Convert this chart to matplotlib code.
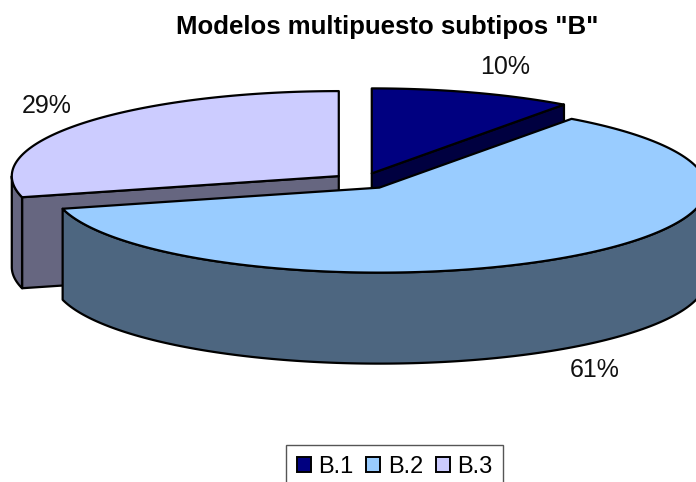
import numpy as np
import matplotlib
matplotlib.use("Agg")
import matplotlib.pyplot as plt
from matplotlib.patches import Patch

plt.rcParams['font.family'] = ['Liberation Sans', 'DejaVu Sans']

# -------------------------------
# Data
categories = ["B.1", "B.2", "B.3"]
values = [10, 61, 29]
title = 'Modelos multipuesto subtipos "B"'

# -------------------------------
# Look of the fake 3D pie (pixels of the picture)
top_colors = ['#000080', '#99CCFF', '#CCCCFF']
wall_colors = ['#000040', '#4D6680', '#666680']
center_x, center_y = 362.5, 181
radius_x, radius_y = 327, 85
explode_x, explode_y = 30, 8
depth = 91
line = dict(edgecolor='black', linewidth=1.6, joinstyle='round')
label_pos = [(505, 67), (595, 370), (47, 106)]

fig = plt.figure(figsize=(6.96, 4.82), dpi=100)
ax = fig.add_axes([0, 0, 1, 1])
ax.set_xlim(0, 696)
ax.set_ylim(482, 0)
ax.axis('off')

# slices go clockwise from 12 o'clock
fracs = np.array(values) / sum(values)
ends = np.cumsum(fracs) * 2 * np.pi
starts = ends - fracs * 2 * np.pi


def rim(cx, cy, a0, a1):
    t = np.linspace(a0, a1, 200)
    return cx + radius_x * np.sin(t), cy - radius_y * np.cos(t)


def cut_face(cx, cy, angle, color):
    ex, ey = rim(cx, cy, angle, angle)
    ax.fill([cx, ex[0], ex[0], cx], [cy, ey[0], ey[0] + depth, cy + depth],
            facecolor=color, **line)


# back to front: B.3, B.1, B.2
for i in [2, 0, 1]:
    a0, a1 = starts[i], ends[i]
    mid = (a0 + a1) / 2
    cx = center_x + explode_x * np.sin(mid)
    cy = center_y - explode_y * np.cos(mid)

    # cut faces that look to the front
    if a1 < np.pi:
        cut_face(cx, cy, a1, wall_colors[i])
    if a0 > np.pi:
        cut_face(cx, cy, a0, wall_colors[i])

    # outer wall, only the part on the front half
    w0 = max(a0, np.pi / 2)
    w1 = min(a1, 3 * np.pi / 2)
    if w1 > w0:
        x, y = rim(cx, cy, w0, w1)
        ax.fill(np.r_[x, x[::-1]], np.r_[y, y[::-1] + depth],
                facecolor=wall_colors[i], **line)

    # top face
    x, y = rim(cx, cy, a0, a1)
    ax.fill(np.r_[cx, x], np.r_[cy, y], facecolor=top_colors[i], **line)

# -------------------------------
# Texts
ax.text(387, 27, title, ha='center', va='center', fontsize=18.5, fontweight='bold')
for v, (lx, ly) in zip(values, label_pos):
    ax.text(lx, ly, f"{v}%", ha='center', va='center', fontsize=18, color='#111111')

handles = [Patch(facecolor=c, edgecolor='black', linewidth=1.4) for c in top_colors]
leg = ax.legend(handles, categories, ncol=3, loc='upper left',
                bbox_to_anchor=(286, 445), bbox_transform=ax.transData,
                fontsize=17, frameon=True, fancybox=False, framealpha=1,
                edgecolor='#555555', borderaxespad=0, borderpad=0.45,
                handlelength=0.6, handleheight=0.6, handletextpad=0.33,
                columnspacing=0.52)
leg.get_frame().set_linewidth(1.0)

fig.savefig("out.png", dpi=100)
